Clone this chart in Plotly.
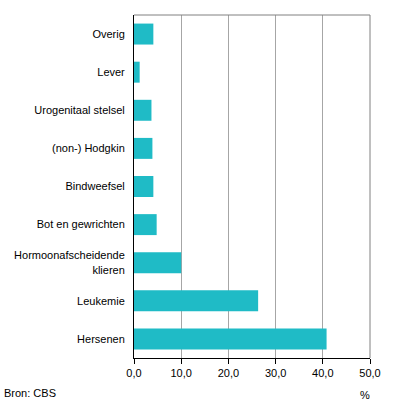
import plotly.graph_objects as go

categories = ["Hersenen", "Leukemie", "Hormoonafscheidende<br>klieren", "Bot en gewrichten",
              "Bindweefsel", "(non-) Hodgkin", "Urogenitaal stelsel", "Lever", "Overig"]
values = [40.8, 26.3, 10.0, 4.8, 4.1, 3.9, 3.7, 1.2, 4.1]
tick_vals = [0, 10, 20, 30, 40, 50]
tick_text = ["0,0", "10,0", "20,0", "30,0", "40,0", "50,0"]

fig = go.Figure(go.Bar(
    y=categories, x=values, orientation="h",
    marker=dict(color="#1fbbc6", line=dict(width=0)),
    width=0.55, hoverinfo="skip",
))

fig.update_layout(
    width=396, height=407,
    margin=dict(l=134, r=26, t=15, b=49, autoexpand=False),
    plot_bgcolor="white", paper_bgcolor="white",
    font=dict(family="Liberation Sans, Arial, sans-serif", size=11, color="black"),
    showlegend=False,
    xaxis=dict(range=[0, 50], tickvals=tick_vals, ticktext=tick_text,
               showgrid=True, gridcolor="#a6a6a6", gridwidth=1,
               showline=True, linecolor="black", linewidth=1,
               ticks="outside", ticklen=5, tickcolor="black",
               zeroline=False, fixedrange=True, automargin=False),
    yaxis=dict(categoryorder="array", categoryarray=categories,
               range=[-0.5, len(categories) - 0.5],
               showline=True, linecolor="black", linewidth=1,
               ticks="", showgrid=False, zeroline=False,
               ticklabelstandoff=6, fixedrange=True, automargin=False),
    shapes=[
        dict(type="line", xref="paper", yref="paper", x0=0, x1=1, y0=1, y1=1,
             line=dict(color="#808080", width=1)),
        dict(type="line", xref="paper", yref="paper", x0=1, x1=1, y0=0, y1=1,
             line=dict(color="#808080", width=1)),
    ],
    annotations=[
        dict(text="Bron: CBS", xref="paper", yref="paper", x=-132/236, y=-35/343,
             xanchor="left", yanchor="middle", showarrow=False,
             font=dict(size=11)),
        dict(text="%", xref="paper", yref="paper", x=(365-134)/236, y=-37/343,
             xanchor="center", yanchor="middle", showarrow=False,
             font=dict(size=11)),
    ],
)

fig.write_html("out.html", config={"displayModeBar": False},
               post_script="document.body.style.margin='0';document.body.style.overflow='hidden';")
